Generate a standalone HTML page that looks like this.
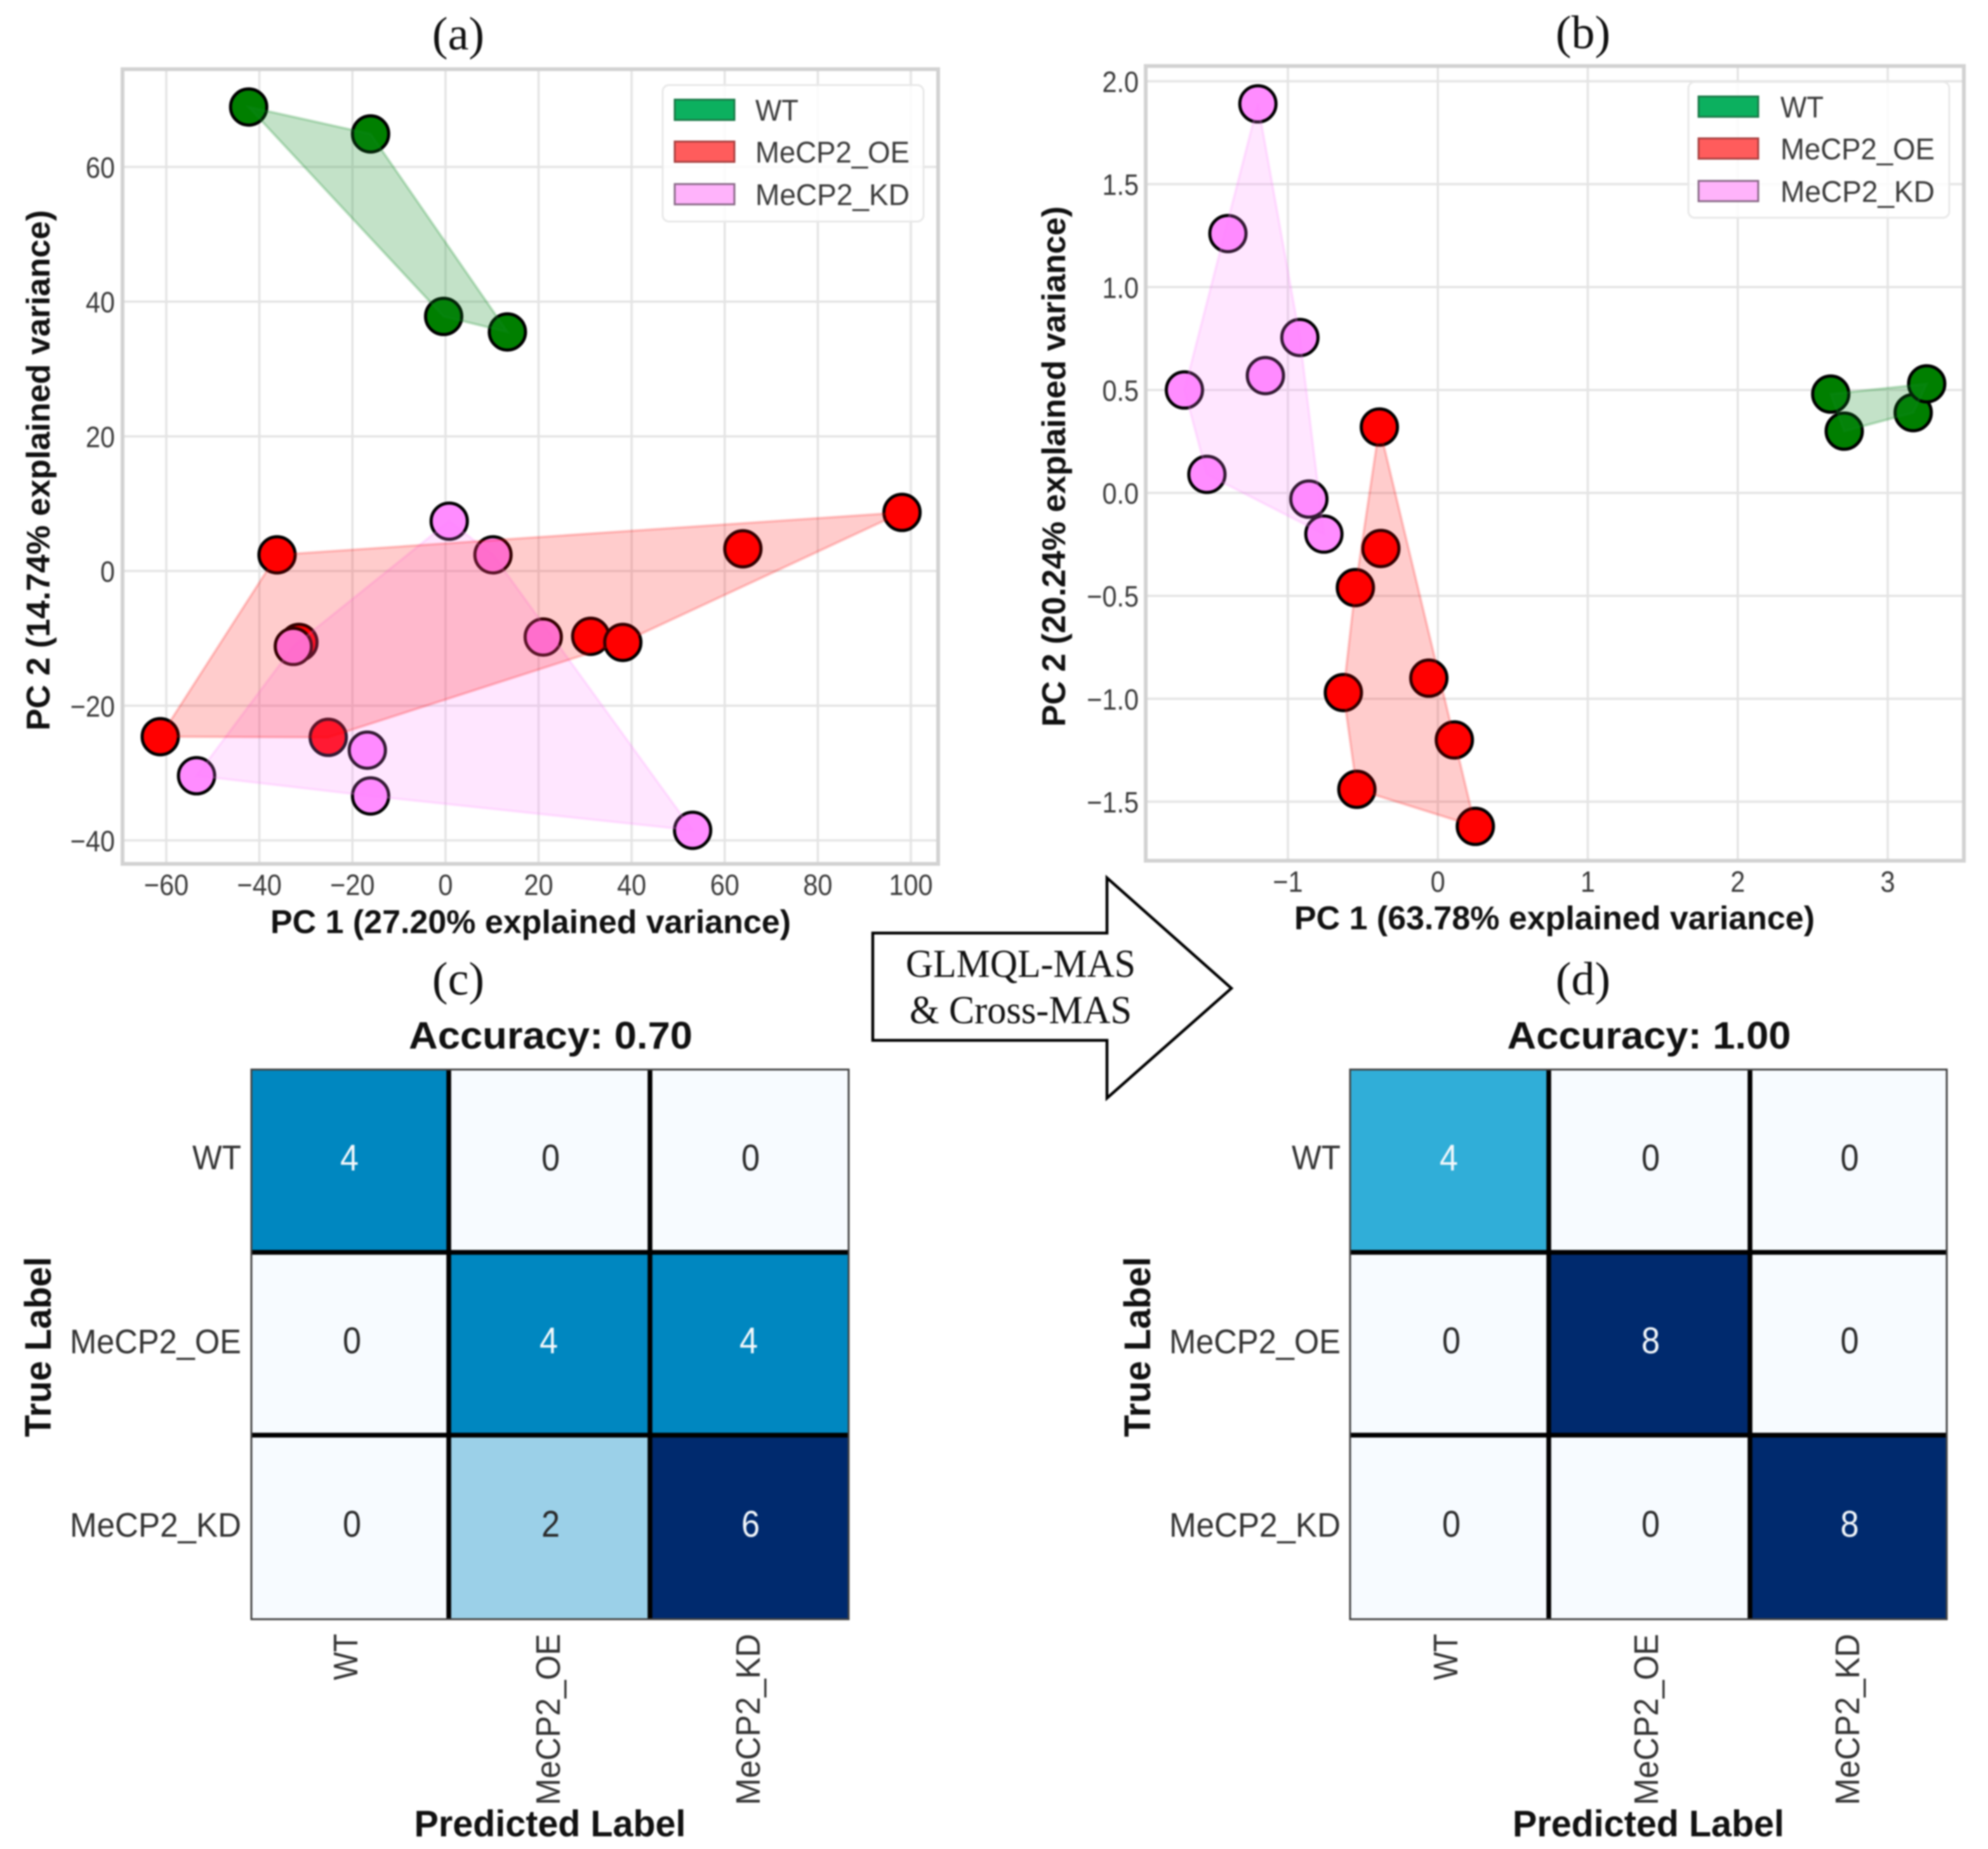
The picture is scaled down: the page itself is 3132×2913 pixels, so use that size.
<!DOCTYPE html>
<html lang="en">
<head>
<meta charset="utf-8">
<title>PCA and confusion matrices</title>
<style>
html,body{margin:0;padding:0;background:#fff}
svg{display:block;filter:blur(1.2px)}
text{font-family:"Liberation Sans",Arial,sans-serif}
.serif{font-family:"Liberation Serif","Times New Roman",serif;fill:#111}
.tick{font-size:46px;fill:#3a3a3a}
.axis{font-weight:bold;font-size:52px;fill:#111}
.leg{font-size:47px;fill:#3a3a3a}
.hm{font-size:54px;fill:#333}
</style>
</head>
<body>
<svg id="fig" xmlns="http://www.w3.org/2000/svg" width="3132" height="2913" viewBox="0 0 3132 2913">
<rect width="3132" height="2913" fill="#fff"/>
<text class="serif" x="722" y="78" font-size="74" text-anchor="middle">(a)</text>
<text class="serif" x="2494" y="76" font-size="74" text-anchor="middle">(b)</text>
<text class="serif" x="722" y="1567" font-size="74" text-anchor="middle">(c)</text>
<text class="serif" x="2494" y="1567" font-size="74" text-anchor="middle">(d)</text>
<polygon points="1375,1470 1744,1470 1744,1383 1940,1557 1744,1730 1744,1639 1375,1639" fill="#fff" stroke="#000" stroke-width="4.5"/>
<text class="serif" x="1608" y="1539" font-size="62" text-anchor="middle" textLength="362" lengthAdjust="spacingAndGlyphs">GLMQL-MAS</text>
<text class="serif" x="1608" y="1612" font-size="62" text-anchor="middle" textLength="350" lengthAdjust="spacingAndGlyphs">&amp; Cross-MAS</text>
</svg>
<script>
// ----- Panel (a) data -----
const xTicksA = [-60, -40, -20, 0, 20, 40, 60, 80, 100];
const yTicksA = [-40, -20, 0, 20, 40, 60];
const wtXA = [-42.3, -16.1, -0.4, 13.3];
const wtYA = [68.9, 64.9, 37.8, 35.5];
const oeXA = [-61.3, -36.2, -25.2, -31.5, 31.2, 38.1, 63.9, 98.1];
const oeYA = [-24.6, 2.4, -24.7, -10.6, -9.7, -10.6, 3.3, 8.7];
const kdXA = [-53.5, -32.7, -16.8, -16.1, 0.8, 10.2, 21.0, 53.1];
const kdYA = [-30.4, -11.2, -26.6, -33.4, 7.4, 2.4, -9.8, -38.5];
// ----- Panel (b) data -----
const xTicksB = [-1, 0, 1, 2, 3];
const yTicksB = [-1.5, -1.0, -0.5, 0.0, 0.5, 1.0, 1.5, 2.0];
const wtXB = [2.62, 2.71, 3.17, 3.26];
const wtYB = [0.48, 0.30, 0.39, 0.53];
const oeXB = [-0.39, -0.38, -0.55, -0.06, -0.63, 0.11, -0.54, 0.25];
const oeYB = [0.32, -0.27, -0.46, -0.90, -0.97, -1.20, -1.44, -1.62];
const kdXB = [-1.20, -1.40, -0.92, -1.15, -1.69, -1.54, -0.86, -0.76];
const kdYB = [1.89, 1.26, 0.755, 0.57, 0.50, 0.09, -0.03, -0.20];
// ----- Confusion matrices -----
const classLabels = ['WT', 'MeCP2_OE', 'MeCP2_KD'];
const matrixC = [[4, 0, 0], [0, 4, 4], [0, 2, 6]];
const matrixD = [[4, 0, 0], [0, 8, 0], [0, 0, 8]];
const accuracyC = '0.70';
const accuracyD = '1.00';

const NS = 'http://www.w3.org/2000/svg';
const fig = document.getElementById('fig');
function mk(tag, attrs, text) {
  const e = document.createElementNS(NS, tag);
  for (const k in attrs) e.setAttribute(k, attrs[k]);
  if (text !== undefined) e.textContent = text;
  fig.appendChild(e);
  return e;
}
function linear(d0, d1, r0, r1) {
  return function (v) { return r0 + (v - d0) * (r1 - r0) / (d1 - d0); };
}
function fmt(v, dec) {
  return (v < 0 ? '\u2212' : '') + Math.abs(v).toFixed(dec);
}
function hull(pts) {
  const p = pts.slice().sort(function (a, b) { return a[0] - b[0] || a[1] - b[1]; });
  const cross = function (o, a, b) { return (a[0] - o[0]) * (b[1] - o[1]) - (a[1] - o[1]) * (b[0] - o[0]); };
  const lo = [], up = [];
  p.forEach(function (q) {
    while (lo.length > 1 && cross(lo[lo.length - 2], lo[lo.length - 1], q) <= 0) lo.pop();
    lo.push(q);
  });
  p.slice().reverse().forEach(function (q) {
    while (up.length > 1 && cross(up[up.length - 2], up[up.length - 1], q) <= 0) up.pop();
    up.push(q);
  });
  lo.pop(); up.pop();
  return lo.concat(up);
}

function scatterPanel(c) {
  const X = c.xScale, Y = c.yScale, f = c.frame;
  c.xTicks.forEach(function (t) {
    const g = mk('line', { x1: X(t), x2: X(t), y1: f.y0, y2: f.y1, stroke: '#e4e4e4', 'stroke-width': 3.5 });
    
    
    const l = mk('text', { x: 0, y: 0, transform: 'translate(' + X(t) + ',' + c.xTickY + ') scale(0.9,1)', class: 'tick', 'text-anchor': 'middle' }, fmt(t, 0));
    
    
  });
  c.yTicks.forEach(function (t) {
    const g = mk('line', { x1: f.x0, x2: f.x1, y1: Y(t), y2: Y(t), stroke: '#e4e4e4', 'stroke-width': 3.5 });
    
    
    const l = mk('text', { x: 0, y: 0, transform: 'translate(' + c.yTickX + ',' + (Y(t) + 17) + ') scale(0.9,1)', class: 'tick', 'text-anchor': 'end' }, fmt(t, c.yDec));
    
    
  });
  c.groups.forEach(function (s) {
    s.xs.forEach(function (x, i) {
      const m = mk('circle', { cx: X(x), cy: Y(s.ys[i]), r: 28.5, fill: s.marker, stroke: '#000', 'stroke-width': 5 });
      
      
    });
  });
  c.hullOrder.forEach(function (idx) {
    const s = c.groups[idx];
    const pts = hull(s.xs.map(function (x, i) { return [X(x), Y(s.ys[i])]; }));
    const h = mk('polygon', {
      points: pts.map(function (p) { return p.join(','); }).join(' '),
      fill: s.hull, 'fill-opacity': s.alpha, stroke: s.hull, 'stroke-opacity': s.alpha, 'stroke-width': 4
    });
    
    
  });
  const fr = mk('rect', { x: f.x0, y: f.y0, width: f.x1 - f.x0, height: f.y1 - f.y0, fill: 'none', stroke: '#d2d2d2', 'stroke-width': 6 });
  
  

  const L = c.legend;
  const box = mk('rect', { x: L.x, y: L.y, width: L.w, height: L.h, rx: 10, fill: '#fff', 'fill-opacity': 0.85, stroke: '#e8e8e8', 'stroke-width': 3 });
  
  
  c.groups.forEach(function (s, i) {
    const ry = L.patchY[i];
    const p = mk('rect', { x: L.patchX, y: ry, width: 94, height: 32, fill: s.legendFill, stroke: s.legendEdge, 'stroke-width': 3 });
    
    
    const t = mk('text', { x: L.textX, y: ry + 33, class: 'leg', textLength: s.label === 'WT' ? 68 : 243, lengthAdjust: 'spacingAndGlyphs' }, s.label);
    
    
  });
  const xl = mk('text', { x: c.xLabel.x, y: c.xLabel.y, class: 'axis', 'text-anchor': 'middle', textLength: c.xLabel.len, lengthAdjust: 'spacingAndGlyphs' }, c.xLabel.text);
  
  
  const yl = mk('text', { x: 0, y: 0, transform: 'translate(' + c.yLabel.x + ',' + c.yLabel.y + ') rotate(-90)', class: 'axis', 'text-anchor': 'middle', textLength: c.yLabel.len, lengthAdjust: 'spacingAndGlyphs' }, c.yLabel.text);
  
  
}

function seriesStyle(name, label, xs, ys, marker, hullColor, alpha, legendFill, legendEdge) {
  return { name: name, label: label, xs: xs, ys: ys, marker: marker, hull: hullColor, alpha: alpha, legendFill: legendFill, legendEdge: legendEdge };
}
function groupsFor(wx, wy, ox, oy, kx, ky) {
  return [
    seriesStyle('wt', classLabels[0], wx, wy, '#007f00', '#108a22', 0.25, '#0cb05f', '#1a7a48'),
    seriesStyle('oe', classLabels[1], ox, oy, '#ff0000', '#ff0000', 0.2, '#ff5c5c', '#a84040'),
    seriesStyle('kd', classLabels[2], kx, ky, '#ff8cff', '#ff80ff', 0.2, '#ffb3fb', '#8a6a88')
  ];
}

scatterPanel({
  id: 'panel-a',
  frame: { x0: 193, x1: 1478, y0: 109, y1: 1361 },
  xScale: linear(-60, 100, 262, 1435),
  yScale: linear(-40, 60, 1324, 263),
  xTicks: xTicksA, yTicks: yTicksA, yDec: 0, xTickY: 1410, yTickX: 181,
  groups: groupsFor(wtXA, wtYA, oeXA, oeYA, kdXA, kdYA),
  hullOrder: [0, 2, 1],
  legend: { x: 1044, y: 134, w: 411, h: 215, patchX: 1063, textX: 1190, patchY: [157, 223, 290] },
  xLabel: { x: 836, y: 1470, len: 820, text: 'PC 1 (27.20% explained variance)' },
  yLabel: { x: 78, y: 741, len: 820, text: 'PC 2 (14.74% explained variance)' }
});
scatterPanel({
  id: 'panel-b',
  frame: { x0: 1805, x1: 3094, y0: 104, y1: 1356 },
  xScale: linear(-1, 3, 2029, 2974),
  yScale: linear(-1.5, 2, 1263, 128),
  xTicks: xTicksB, yTicks: yTicksB, yDec: 1, xTickY: 1405, yTickX: 1794,
  groups: groupsFor(wtXB, wtYB, oeXB, oeYB, kdXB, kdYB),
  hullOrder: [0, 2, 1],
  legend: { x: 2660, y: 129, w: 411, h: 214, patchX: 2676, textX: 2805, patchY: [152, 218, 285] },
  xLabel: { x: 2449, y: 1464, len: 820, text: 'PC 1 (63.78% explained variance)' },
  yLabel: { x: 1678, y: 735, len: 820, text: 'PC 2 (20.24% explained variance)' }
});

// colour ramp sampled from the reference heatmaps
const rampStops = [[0, [247, 251, 255]], [0.333, [155, 208, 232]], [0.5, [48, 174, 216]], [0.667, [0, 135, 192]], [1, [0, 42, 110]]];
function ramp(t) {
  for (let i = 1; i < rampStops.length; i++) {
    if (t <= rampStops[i][0]) {
      const a = rampStops[i - 1], b = rampStops[i];
      const u = (t - a[0]) / (b[0] - a[0]);
      return 'rgb(' + a[1].map(function (v, k) { return Math.round(v + (b[1][k] - v) * u); }).join(',') + ')';
    }
  }
  return 'rgb(0,42,110)';
}

function heatmap(c) {
  const m = c.matrix;
  let vmax = 0;
  m.forEach(function (r) { r.forEach(function (v) { vmax = Math.max(vmax, v); }); });
  m.forEach(function (row, r) {
    row.forEach(function (v, k) {
      const x0 = c.xs[k], x1 = c.xs[k + 1], y0 = c.ys[r], y1 = c.ys[r + 1];
      const cell = mk('rect', { x: x0, y: y0, width: x1 - x0, height: y1 - y0, fill: ramp(v / vmax) });
      
      
    });
  });
  for (let i = 1; i < 3; i++) {
    const v = mk('line', { x1: c.xs[i], x2: c.xs[i], y1: c.ys[0], y2: c.ys[3], stroke: '#000', 'stroke-width': 7.5 });
    
    
    const h = mk('line', { x1: c.xs[0], x2: c.xs[3], y1: c.ys[i], y2: c.ys[i], stroke: '#000', 'stroke-width': 7.5 });
    
    
  }
  const fr = mk('rect', { x: c.xs[0], y: c.ys[0], width: c.xs[3] - c.xs[0], height: c.ys[3] - c.ys[0], fill: 'none', stroke: '#444', 'stroke-width': 3 });
  
  
  m.forEach(function (row, r) {
    row.forEach(function (v, k) {
      const nudge = (v === 4 ? -1 : 2) + (r > 0 && k === 0 ? 1 : 0);
      const t = mk('text', { x: 0, y: 0, transform: 'translate(' + ((c.xs[k] + c.xs[k + 1]) / 2 + nudge) + ',' + ((c.ys[r] + c.ys[r + 1]) / 2 + 15) + ') scale(0.9,1)', 'font-size': 58, 'text-anchor': 'middle', fill: v / vmax > 0.4 ? '#f4f8fb' : '#2a2a2a' }, String(v));
      
      
    });
  });
  classLabels.forEach(function (name, i) {
    const yl = mk('text', { x: c.yLabelX, y: c.yLabelY[i], class: 'hm', 'text-anchor': 'end', textLength: name === 'WT' ? 77 : 270, lengthAdjust: 'spacingAndGlyphs' }, name);
    
    
    const xl = mk('text', { x: 0, y: 0, transform: 'translate(' + c.xLabelX[i] + ',2574) rotate(-90)', class: 'hm', 'text-anchor': 'end', textLength: name === 'WT' ? 73 : 270, lengthAdjust: 'spacingAndGlyphs' }, name);
    
    
  });
  const cx = (c.xs[0] + c.xs[3]) / 2;
  const ti = mk('text', { x: cx + 1, y: 1652, class: 'axis', style: 'font-size:60px', 'text-anchor': 'middle', textLength: 447, lengthAdjust: 'spacingAndGlyphs' }, 'Accuracy: ' + c.accuracy);
  
  
  const xa = mk('text', { x: cx, y: 2893, class: 'axis', style: 'font-size:58px', 'text-anchor': 'middle', textLength: 428, lengthAdjust: 'spacingAndGlyphs' }, 'Predicted Label');
  
  
  const ya = mk('text', { x: 0, y: 0, transform: 'translate(' + c.yAxisX + ',2122) rotate(-90)', class: 'axis', style: 'font-size:58px', 'text-anchor': 'middle', textLength: 284, lengthAdjust: 'spacingAndGlyphs' }, 'True Label');
  
  
}

heatmap({
  id: 'matrix-c', matrix: matrixC, accuracy: accuracyC,
  xs: [396, 707, 1024, 1337], ys: [1685, 1973, 2261, 2551],
  yLabelX: 380, yLabelY: [1842, 2132, 2421], xLabelX: [563, 882, 1197], yAxisX: 80
});
heatmap({
  id: 'matrix-d', matrix: matrixD, accuracy: accuracyD,
  xs: [2127, 2440, 2757, 3067], ys: [1685, 1973, 2261, 2551],
  yLabelX: 2112, yLabelY: [1842, 2132, 2421], xLabelX: [2296, 2612, 2929], yAxisX: 1812
});
</script>
</body>
</html>
